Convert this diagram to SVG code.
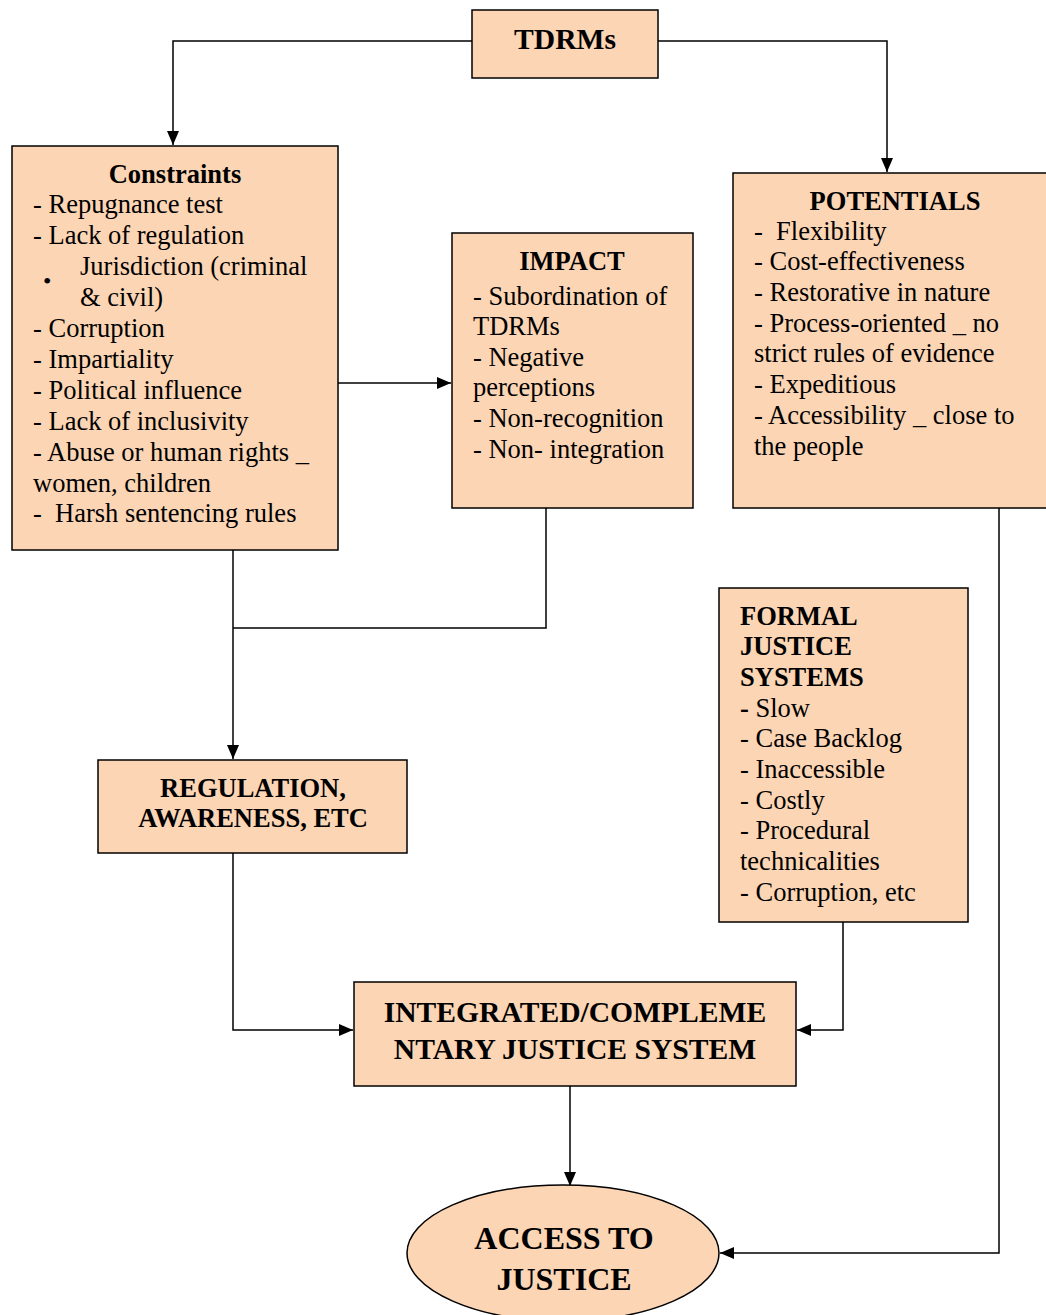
<svg xmlns="http://www.w3.org/2000/svg" width="1046" height="1315" viewBox="0 0 1046 1315">
<style>
.box{fill:#FCD5B4;stroke:#000;stroke-width:1.5}
.t{font-family:"Liberation Serif","Times New Roman",serif;font-size:26.5px;fill:#000}
.b{font-weight:bold}
.c{text-anchor:middle}
.big{font-size:29.6px}
.huge{font-size:32px}
.dot{font-size:24px}
.ln{fill:none;stroke:#000;stroke-width:1.5}
</style>
<defs>
<marker id="ah2" viewBox="0 0 14 12" refX="14" refY="6" markerWidth="14" markerHeight="12" markerUnits="userSpaceOnUse" orient="auto">
<path d="M0,0 L14,6 L0,12 z" fill="#000"/>
</marker>
</defs>
<rect width="1046" height="1315" fill="#fff"/>
<g id="connectors">
<path class="ln" d="M472,41 H173 V145" marker-end="url(#ah2)"/>
<path class="ln" d="M658,41 H887 V172" marker-end="url(#ah2)"/>
<path class="ln" d="M338,383 H451" marker-end="url(#ah2)"/>
<path class="ln" d="M233,550 V759" marker-end="url(#ah2)"/>
<path class="ln" d="M546,508 V628 H233"/>
<path class="ln" d="M233,853 V1030 H353" marker-end="url(#ah2)"/>
<path class="ln" d="M843,922 V1030 H797" marker-end="url(#ah2)"/>
<path class="ln" d="M570,1086 V1186" marker-end="url(#ah2)"/>
<path class="ln" d="M999,508 V1253 H720" marker-end="url(#ah2)"/>
</g>
<g id="tdrms">
<rect class="box" x="472" y="10" width="186" height="68"/>
<text class="t b c big" x="565" y="49">TDRMs</text>
</g>
<g id="constraints">
<rect class="box" x="12" y="146" width="326" height="404"/>
<text class="t b c" x="175" y="183">Constraints</text>
<text class="t" x="33" y="213">- Repugnance test</text>
<text class="t" x="33" y="244">- Lack of regulation</text>
<text class="t dot" x="43" y="289">•</text>
<text class="t" x="80" y="275">Jurisdiction (criminal</text>
<text class="t" x="80" y="306">&amp; civil)</text>
<text class="t" x="33" y="337">- Corruption</text>
<text class="t" x="33" y="368">- Impartiality</text>
<text class="t" x="33" y="399">- Political influence</text>
<text class="t" x="33" y="430">- Lack of inclusivity</text>
<text class="t" x="33" y="461">- Abuse or human rights _</text>
<text class="t" x="33" y="492">women, children</text>
<text class="t" x="33" y="522" xml:space="preserve">-  Harsh sentencing rules</text>
</g>
<g id="impact">
<rect class="box" x="452" y="233" width="241" height="275"/>
<text class="t b c" x="572" y="270">IMPACT</text>
<text class="t" x="473" y="305">- Subordination of</text>
<text class="t" x="473" y="335">TDRMs</text>
<text class="t" x="473" y="366">- Negative</text>
<text class="t" x="473" y="396">perceptions</text>
<text class="t" x="473" y="427">- Non-recognition</text>
<text class="t" x="473" y="458">- Non- integration</text>
</g>
<g id="potentials">
<rect class="box" x="733" y="173" width="320" height="335"/>
<text class="t b c" x="895" y="210">POTENTIALS</text>
<text class="t" x="754" y="240" xml:space="preserve">-  Flexibility</text>
<text class="t" x="754" y="270">- Cost-effectiveness</text>
<text class="t" x="754" y="301">- Restorative in nature</text>
<text class="t" x="754" y="332">- Process-oriented _ no</text>
<text class="t" x="754" y="362">strict rules of evidence</text>
<text class="t" x="754" y="393">- Expeditious</text>
<text class="t" x="754" y="424">- Accessibility _ close to</text>
<text class="t" x="754" y="455">the people</text>
</g>
<g id="formal">
<rect class="box" x="719" y="588" width="249" height="334"/>
<text class="t b" x="740" y="625">FORMAL</text>
<text class="t b" x="740" y="655">JUSTICE</text>
<text class="t b" x="740" y="686">SYSTEMS</text>
<text class="t" x="740" y="717"><tspan font-weight="bold">-</tspan> Slow</text>
<text class="t" x="740" y="747">- Case Backlog</text>
<text class="t" x="740" y="778">- Inaccessible</text>
<text class="t" x="740" y="809">- Costly</text>
<text class="t" x="740" y="839">- Procedural</text>
<text class="t" x="740" y="870">technicalities</text>
<text class="t" x="740" y="901">- Corruption, etc</text>
</g>
<g id="regulation">
<rect class="box" x="98" y="760" width="309" height="93"/>
<text class="t b c" x="253" y="797">REGULATION,</text>
<text class="t b c" x="253" y="827">AWARENESS, ETC</text>
</g>
<g id="integrated">
<rect class="box" x="354" y="982" width="442" height="104"/>
<text class="t b c big" x="575" y="1022">INTEGRATED/COMPLEME</text>
<text class="t b c big" x="575" y="1059">NTARY JUSTICE SYSTEM</text>
</g>
<g id="access">
<ellipse class="box" cx="563" cy="1253" rx="156" ry="68"/>
<text class="t b c huge" x="564" y="1249">ACCESS TO</text>
<text class="t b c huge" x="564" y="1290">JUSTICE</text>
</g>
</svg>
